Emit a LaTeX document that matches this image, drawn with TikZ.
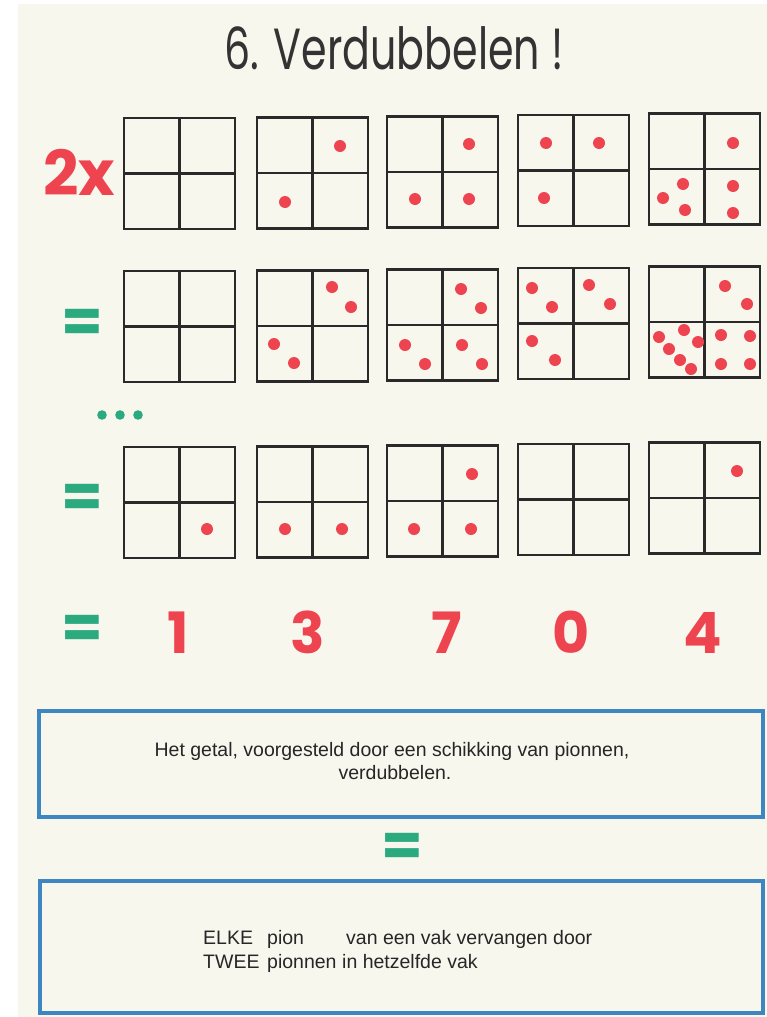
\documentclass[tikz,border=0pt]{standalone}
\usepackage{fontspec}
\setmainfont{Liberation Sans}
\newfontfamily\futura{Poppins}
\newfontfamily\futuratitel[FakeStretch=0.71]{Poppins}
\definecolor{pionrood}{HTML}{EE4450}
\definecolor{gelijkgroen}{HTML}{2BAA80}
\definecolor{kaderblauw}{HTML}{3D86C2}
\definecolor{papier}{HTML}{F8F7EE}
\definecolor{lijnzwart}{HTML}{2A2A2A}

\begin{document}
\begin{tikzpicture}[
  x=1pt,
  y=-1pt,
  frame/.style={draw=lijnzwart,line width=2.8pt},
  divider/.style={draw=lijnzwart,line width=2.2pt},
  pion/.style={fill=pionrood},
  kader/.style={draw=kaderblauw,line width=4pt},
  gelijk/.style={text=gelijkgroen,font=\futura\bfseries\fontsize{60}{60}\selectfont,inner sep=0pt},
  cijfer/.style={text=pionrood,font=\futura\bfseries\fontsize{57}{57}\selectfont,inner sep=0pt,anchor=base},
  zin/.style={text=black!85,font=\fontsize{19.5}{23}\selectfont,inner sep=0pt,anchor=base west}
]
  % Page frame of the scanned sheet.
  \useasboundingbox (0,0) rectangle (767,1017);
  \fill[white] (0,0) rectangle (767,1017);
  \fill[papier] (18,4) rectangle (767,1017);

  % Title.
  \node[font=\futuratitel\fontsize{58}{58}\selectfont,text=black!80,inner sep=0pt,anchor=base] (titel) at (394,69) {6. Verdubbelen !};

  % Three rows of five 2x2 boards (the scan is slightly tilted).
  \foreach \ry in {118,271,447}
    \foreach \vx/\dy in {124/0,257/-0.5,387/-1.5,518/-3,649/-4.5} {
      \draw[frame] (\vx,\ry+\dy) rectangle ++(111,111);
      \draw[divider] (\vx+55.5,\ry+\dy) -- ++(0,111);
      \draw[divider] (\vx,\ry+\dy+55.5) -- ++(111,0);
    }

  % First row: the number to be doubled.
  \foreach \p in {(340,146),(285,202),(469,144),(415,199),(469,199),
                  (546,143),(599,143),(544,198),
                  (733,143),(683,184),(663,198),(685,210),(733,186),(733,213)}
    \fill[pion] \p circle[radius=6];

  % Second row: every pion replaced by two.
  \foreach \p in {(332,287),(351,307),(274,344),(294,363),
                  (461,289),(481,308),(405,345),(425,364),(462,345),(482,364),
                  (532,288),(552,307),(589,285),(610,304),(532,341),(555,360),
                  (725,286),(747,304),(659,337),(669,349),(680,360),(691,369),
                  (684,330),(698,342),(721,335),(750,336),(721,364),(750,364)}
    \fill[pion] \p circle[radius=6];

  % Third row: the result after carrying.
  \foreach \p in {(207,529),(285,529),(342,529),(472,474),(414,529),(471,529),(737,471)}
    \fill[pion] \p circle[radius=6];

  % Left-hand margin signs.
  \node[text=pionrood,font=\futura\bfseries\fontsize{62}{62}\selectfont,inner sep=0pt,anchor=base west] (maal) at (43,195) {2x};
  \node[gelijk] (is1) at (82,326) {=};
  \fill[gelijkgroen] (102,415) circle[radius=4.8];
  \fill[gelijkgroen] (120,415) circle[radius=4.8];
  \fill[gelijkgroen] (138,415) circle[radius=4.8];
  \node[gelijk] (is2) at (82,501) {=};
  \node[gelijk] (is3) at (82,632) {=};

  % Digits of the answer, one under each board.
  \node[cijfer] (c1) at (178,653) {1};
  \node[cijfer] (c2) at (308,653) {3};
  \node[cijfer] (c3) at (447,653) {7};
  \node[cijfer] (c4) at (571,653) {0};
  \node[cijfer] (c5) at (703,653) {4};

  % Rule boxes.
  \draw[kader] (39,711) rectangle (763,817);
  \node[zin,anchor=base] (regel1) at (392,756) {Het getal, voorgesteld door een schikking van pionnen,};
  \node[zin,anchor=base] (regel2) at (395,779) {verdubbelen.};

  \node[gelijk] (is4) at (402,850) {=};

  \draw[kader] (40,881) rectangle (763,1013);
  \node[zin] (elke) at (203,944) {ELKE};
  \node[zin] (pion) at (267,944) {pion};
  \node[zin] (vervangen) at (346,944) {van een vak vervangen door};
  \node[zin] (twee) at (203,968) {TWEE};
  \node[zin] (pionnen) at (267,968) {pionnen};
  \node[zin] (vak) at (342,968) {in hetzelfde vak};
\end{tikzpicture}
\end{document}
